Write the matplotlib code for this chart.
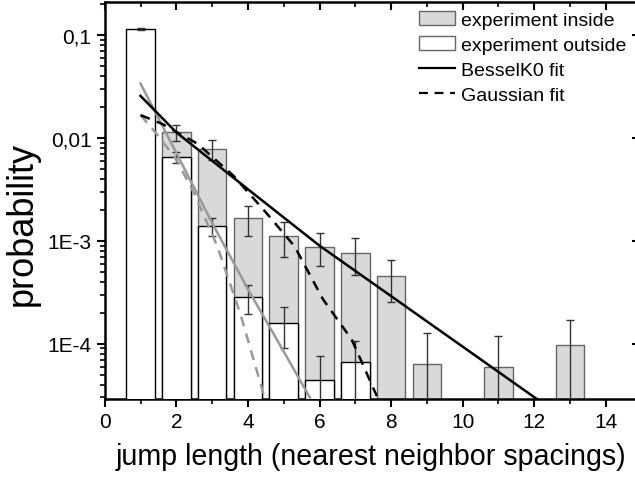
import matplotlib
matplotlib.use("Agg")
import matplotlib.pyplot as plt
import matplotlib.ticker as mticker
from matplotlib.patches import Patch
from matplotlib.lines import Line2D

plt.rcParams['font.family'] = ['Liberation Sans', 'DejaVu Sans']

# jump length bins
x_in = [2, 3, 4, 5, 6, 7, 8, 9, 11, 13]
p_in = [0.0114, 0.0079, 0.00166, 0.00112, 0.00088, 0.00077, 0.000456, 0.000063, 0.00006, 0.000097]
err_in = [0.0021, 0.0017, 0.00055, 0.00042, 0.00031, 0.0003, 0.0002, 0.000065, 0.000059, 0.000072]

x_out = [1, 2, 3, 4, 5, 6, 7]
p_out = [0.115, 0.0066, 0.0014, 0.000285, 0.00016, 0.0000444, 0.000067]
err_out = [0.003, 0.0008, 0.00027, 0.00009, 0.00007, 0.0000315, 0.000039]

# fits
bessel_x = [1.0, 2.0, 4.06, 6.0, 8.06, 12.07]
bessel_y = [0.0258, 0.0114, 0.00307, 0.0009, 0.000281, 0.000029]
gauss_x = [1.0, 1.6, 2.6, 3.6, 4.5, 5.3, 6.1, 6.9, 7.6]
gauss_y = [0.0168, 0.0138, 0.0088, 0.0043, 0.0019, 0.00089, 0.00027, 0.00011, 0.000031]

bessel_out_x = [1.0, 2.0, 3.0, 4.0, 5.0, 5.73]
bessel_out_y = [0.034, 0.0072, 0.0015, 0.00034, 0.000084, 0.00003]
gauss_out_x = [1.0, 1.5, 2.0, 2.5, 3.15, 3.8, 4.43]
gauss_out_y = [0.0168, 0.0105, 0.0062, 0.0029, 0.00088, 0.00019, 0.000033]

fig = plt.figure(figsize=(6.35, 4.81), dpi=100)
ax = fig.add_axes([0.1649, 0.1684, 0.840, 0.8247])
ax.set_yscale('log')

ax.bar(x_in, p_in, width=0.8, color='#d9d9d9', edgecolor='#666666', linewidth=1, zorder=2)
ax.bar(x_out, p_out, width=0.8, color='white', edgecolor='black', linewidth=1, zorder=3)
ax.errorbar(x_in, p_in, yerr=err_in, fmt='none', ecolor='#333333', elinewidth=1, capsize=3, zorder=4)
ax.errorbar(x_out, p_out, yerr=err_out, fmt='none', ecolor='#333333', elinewidth=1, capsize=3, zorder=4)

ax.plot(bessel_out_x, bessel_out_y, color='#999999', lw=1.8, zorder=5)
ax.plot(gauss_out_x, gauss_out_y, color='#999999', lw=1.8, ls=(0, (4, 3)), zorder=5)
ax.plot(bessel_x, bessel_y, color='black', lw=1.8, zorder=6)
ax.plot(gauss_x, gauss_y, color='black', lw=1.8, ls=(0, (4, 3)), zorder=6)

ax.set_xlim(0, 14.9)
ax.set_ylim(2.9e-5, 0.21)

ax.xaxis.set_major_locator(mticker.MultipleLocator(2))
ax.xaxis.set_minor_locator(mticker.MultipleLocator(1))
ax.yaxis.set_major_locator(mticker.FixedLocator([1e-4, 1e-3, 1e-2, 1e-1]))
ax.yaxis.set_major_formatter(mticker.FixedFormatter(['1E-4', '1E-3', '0,01', '0,1']))
ax.yaxis.set_minor_locator(mticker.LogLocator(base=10, subs=range(2, 10)))
ax.yaxis.set_minor_formatter(mticker.NullFormatter())

ax.tick_params(axis='both', which='major', direction='out', length=6, width=1.5, labelsize=15)
ax.tick_params(axis='both', which='minor', direction='out', length=3.5, width=1.2)
for s in ax.spines.values():
    s.set_linewidth(1.8)

# inward ticks on top and right
sec = ax.secondary_xaxis('top')
sec.xaxis.set_major_locator(mticker.MultipleLocator(2))
sec.xaxis.set_minor_locator(mticker.MultipleLocator(1))
sec.tick_params(which='major', direction='in', length=6, width=1.5, labeltop=False)
sec.tick_params(which='minor', direction='in', length=3.5, width=1.2)
secy = ax.secondary_yaxis('right')
secy.yaxis.set_major_locator(mticker.FixedLocator([1e-4, 1e-3, 1e-2, 1e-1]))
secy.yaxis.set_minor_locator(mticker.NullLocator())
secy.tick_params(which='major', direction='in', length=4, width=1.5, labelright=False)

ax.set_xlabel('jump length (nearest neighbor spacings)', fontsize=20.6, labelpad=8)
ax.set_ylabel('probability', fontsize=26)
ax.yaxis.set_label_coords(-0.122, 0.445)

handles = [Patch(facecolor='#d9d9d9', edgecolor='#666666'),
           Patch(facecolor='white', edgecolor='#666666'),
           Line2D([], [], color='black', lw=1.6),
           Line2D([], [], color='black', lw=1.6, ls=(0, (4, 3)))]
labels = ['experiment inside', 'experiment outside', 'BesselK0 fit', 'Gaussian fit']
ax.legend(handles, labels, loc='upper right', bbox_to_anchor=(0.995, 1.0), frameon=False,
          fontsize=14, labelspacing=0.38, handlelength=1.9, handletextpad=0.3, borderaxespad=0.05)

fig.savefig('out.png', dpi=100)
